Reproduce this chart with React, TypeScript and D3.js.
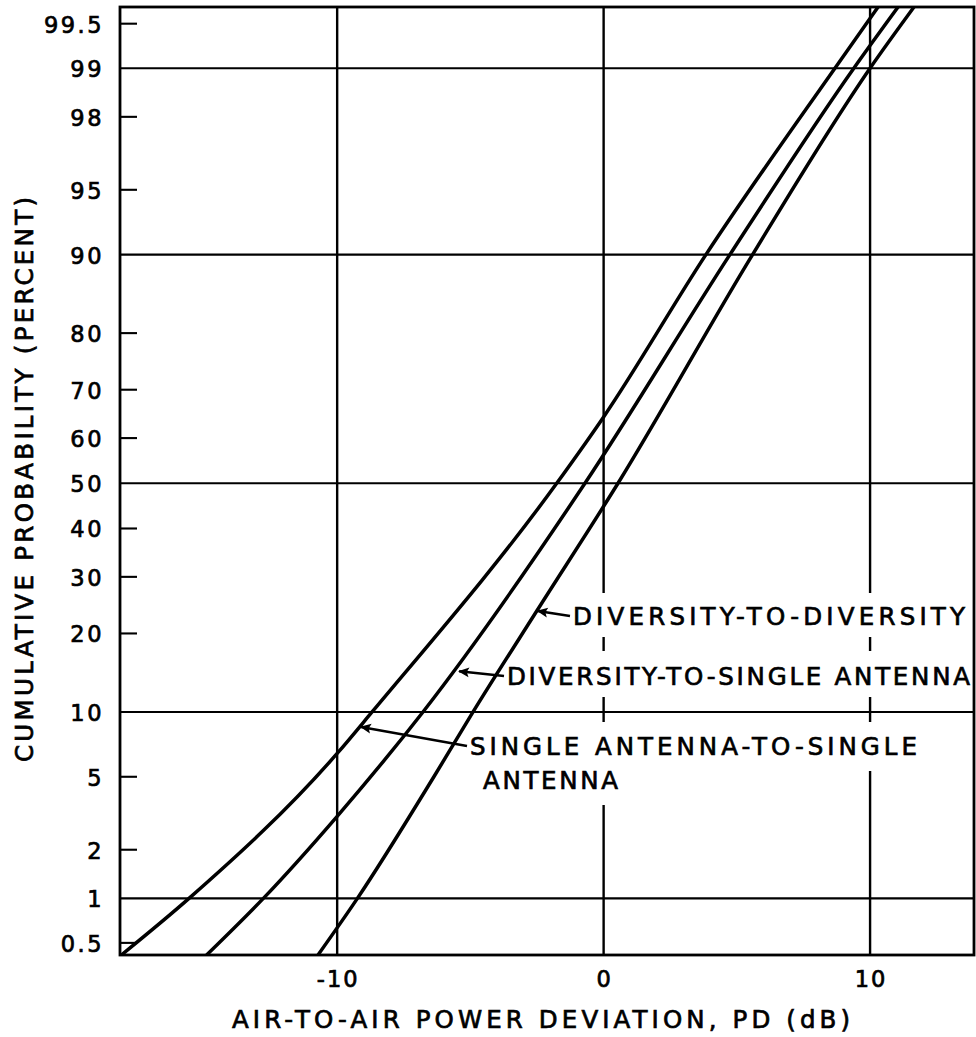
import { useEffect, useRef } from 'react';
import * as d3 from 'd3';

// cumulative probability (percent) on a normal-probability axis
const PROB_TICKS = [0.5, 1, 2, 5, 10, 20, 30, 40, 50, 60, 70, 80, 90, 95, 98, 99, 99.5];
const PROB_GRID = [1, 10, 50, 90, 99];
const PROB_DOMAIN: [number, number] = [0.41, 99.62];

// power deviation (dB)
const DB_TICKS = [-10, 0, 10];
const DB_DOMAIN: [number, number] = [-18.15, 13.9];

// [dB, percent]
const SINGLE_SINGLE: [number, number][] = [
  [-18.1, 0.41], [-15.56, 1], [-10, 6.5], [-8.69, 10],
  [-1.76, 50], [0, 64.5], [3.84, 90], [8.68, 99], [10.3, 99.62],
];
const DIVERSITY_SINGLE: [number, number][] = [
  [-14.9, 0.41], [-12.77, 1], [-10, 3.1], [-6.78, 10],
  [-0.7, 50], [4.74, 90], [9.39, 99], [11.05, 99.62],
];
const DIVERSITY_DIVERSITY: [number, number][] = [
  [-10.72, 0.41], [-9.24, 1], [-6.37, 5], [-4.9, 10], [-2.51, 23.7],
  [0.54, 50], [5.59, 90], [10, 99], [11.65, 99.62],
];

const CURVE_LABELS = ['DIVERSITY-TO-DIVERSITY', 'DIVERSITY-TO-SINGLE ANTENNA', 'SINGLE ANTENNA-TO-SINGLE', 'ANTENNA'];
// arrow tips [dB, percent] for the three labels
const ARROW_TIPS: [number, number][] = [[-2.51, 23.7], [-5.46, 14.6], [-9.14, 8.6]];

const X_TITLE = 'AIR-TO-AIR POWER DEVIATION, PD (dB)';
const Y_TITLE = 'CUMULATIVE PROBABILITY (PERCENT)';

// inverse normal CDF (Acklam)
function probit(p: number) {
  const a = [-39.69683028665376, 220.9460984245205, -275.9285104469687, 138.357751867269, -30.66479806614716, 2.506628277459239];
  const b = [-54.47609879822406, 161.5858368580409, -155.6989798598866, 66.80131188771972, -13.28068155288572];
  const c = [-0.007784894002430293, -0.3223964580411365, -2.400758277161838, -2.549732539343734, 4.374664141464968, 2.938163982698783];
  const d = [0.007784695709041462, 0.3224671290700398, 2.445134137142996, 3.754408661907416];
  const pl = 0.02425;
  if (p < pl) {
    const q = Math.sqrt(-2 * Math.log(p));
    return (((((c[0] * q + c[1]) * q + c[2]) * q + c[3]) * q + c[4]) * q + c[5]) / ((((d[0] * q + d[1]) * q + d[2]) * q + d[3]) * q + 1);
  }
  if (p <= 1 - pl) {
    const q = p - 0.5;
    const r = q * q;
    return (((((a[0] * r + a[1]) * r + a[2]) * r + a[3]) * r + a[4]) * r + a[5]) * q / (((((b[0] * r + b[1]) * r + b[2]) * r + b[3]) * r + b[4]) * r + 1);
  }
  const q = Math.sqrt(-2 * Math.log(1 - p));
  return -(((((c[0] * q + c[1]) * q + c[2]) * q + c[3]) * q + c[4]) * q + c[5]) / ((((d[0] * q + d[1]) * q + d[2]) * q + d[3]) * q + 1);
}

export default function App() {
  const svgRef = useRef<SVGSVGElement>(null);

  useEffect(() => {
    if (!svgRef.current) return;
    const W = 976;
    const H = 1037;
    const m = { left: 120, right: 974, top: 7, bottom: 955 };
    const font = '"DejaVu Sans", sans-serif';

    const svg = d3.select(svgRef.current);
    svg.selectAll('*').remove();
    svg.append('rect').attr('width', W).attr('height', H).attr('fill', '#fff');

    const x = d3.scaleLinear().domain(DB_DOMAIN).range([m.left, m.right]);
    const zScale = d3.scaleLinear()
      .domain([probit(PROB_DOMAIN[0] / 100), probit(PROB_DOMAIN[1] / 100)])
      .range([m.bottom, m.top]);
    const y = (p: number) => zScale(probit(p / 100));

    const gridG = svg.append('g');
    const maskG = svg.append('g');
    const frameG = svg.append('g');
    const curveG = svg.append('g');
    const textG = svg.append('g')
      .attr('font-family', font).attr('fill', '#000')
      .attr('stroke', '#000').attr('stroke-width', 0.7);

    // grid
    gridG.selectAll('line.v').data(DB_TICKS).join('line')
      .attr('x1', (d) => x(d)).attr('x2', (d) => x(d))
      .attr('y1', m.top).attr('y2', m.bottom)
      .attr('stroke', '#000').attr('stroke-width', 2.4);
    gridG.selectAll('line.h').data(PROB_GRID).join('line')
      .attr('x1', m.left).attr('x2', m.right)
      .attr('y1', (d) => y(d)).attr('y2', (d) => y(d))
      .attr('stroke', '#000').attr('stroke-width', 2.1);

    // short ticks on the left
    frameG.selectAll('line.t').data(PROB_TICKS.filter((p) => !PROB_GRID.includes(p))).join('line')
      .attr('x1', m.left).attr('x2', m.left + 17)
      .attr('y1', (d) => y(d)).attr('y2', (d) => y(d))
      .attr('stroke', '#000').attr('stroke-width', 2.1);

    frameG.append('rect')
      .attr('x', m.left).attr('y', m.top)
      .attr('width', m.right - m.left).attr('height', m.bottom - m.top)
      .attr('fill', 'none').attr('stroke', '#000').attr('stroke-width', 2.8);

    // tick labels
    textG.selectAll('text.yt').data(PROB_TICKS).join('text')
      .attr('x', 104).attr('y', (d) => y(d) + 9)
      .attr('text-anchor', 'end').attr('font-size', 22.5).attr('letter-spacing', 2.5)
      .text((d) => String(d));
    textG.selectAll('text.xt').data(DB_TICKS).join('text')
      .attr('x', (d) => x(d) + 1).attr('y', 987)
      .attr('text-anchor', 'middle').attr('font-size', 22.5).attr('letter-spacing', 2)
      .text((d) => String(d));

    // axis titles
    textG.append('text')
      .attr('x', 232).attr('y', 1028)
      .attr('font-size', 24.5).attr('textLength', 618).attr('lengthAdjust', 'spacing')
      .text(X_TITLE);
    textG.append('text')
      .attr('transform', 'translate(33,762) rotate(-90)')
      .attr('font-size', 24.5).attr('textLength', 565).attr('lengthAdjust', 'spacing')
      .text(Y_TITLE);

    // curves
    svg.append('defs').append('clipPath').attr('id', 'plot-clip')
      .append('rect').attr('x', m.left).attr('y', m.top)
      .attr('width', m.right - m.left).attr('height', m.bottom - m.top);
    const line = d3.line<[number, number]>()
      .x((d) => x(d[0]))
      .y((d) => y(d[1]))
      .curve(d3.curveMonotoneX);
    curveG.attr('clip-path', 'url(#plot-clip)')
      .selectAll('path').data([SINGLE_SINGLE, DIVERSITY_SINGLE, DIVERSITY_DIVERSITY]).join('path')
      .attr('d', (d) => line(d))
      .attr('fill', 'none').attr('stroke', '#000').attr('stroke-width', 3.5);

    // curve labels, with white boxes that break the grid lines
    const labels = [
      { text: CURVE_LABELS[0], x: 573, y: 625, len: 392, box: [565, 593, 970, 637] },
      { text: CURVE_LABELS[1], x: 507, y: 685, len: 463, box: [500, 651, 972, 697] },
      { text: CURVE_LABELS[2], x: 470, y: 755, len: 447, box: [463, 722, 925, 771] },
      { text: CURVE_LABELS[3], x: 483, y: 789, len: 135, box: [476, 771, 625, 805] },
    ];
    maskG.selectAll('rect').data(labels).join('rect')
      .attr('x', (d) => d.box[0]).attr('y', (d) => d.box[1])
      .attr('width', (d) => d.box[2] - d.box[0]).attr('height', (d) => d.box[3] - d.box[1])
      .attr('fill', '#fff');
    textG.selectAll('text.lab').data(labels).join('text')
      .attr('x', (d) => d.x).attr('y', (d) => d.y)
      .attr('font-size', 24.5).attr('textLength', (d) => d.len).attr('lengthAdjust', 'spacing')
      .text((d) => d.text);

    // arrows
    svg.select('defs').append('marker')
      .attr('id', 'arrow-head').attr('viewBox', '0 0 10 10')
      .attr('refX', 9).attr('refY', 5)
      .attr('markerWidth', 16).attr('markerHeight', 11)
      .attr('markerUnits', 'userSpaceOnUse').attr('orient', 'auto')
      .append('path').attr('d', 'M0,0.5 L10,5 L0,9.5 L2,5 Z').attr('fill', '#000');
    svg.append('g').selectAll('line').data(ARROW_TIPS).join('line')
      .attr('x1', (_, i) => labels[i].x - 3)
      .attr('y1', (_, i) => labels[i].y - 9)
      .attr('x2', (d) => x(d[0]) + 1)
      .attr('y2', (d) => y(d[1]))
      .attr('stroke', '#000').attr('stroke-width', 2.4)
      .attr('marker-end', 'url(#arrow-head)');
  }, []);

  return (
    <svg
      ref={svgRef}
      width={976}
      height={1037}
      style={{ position: 'absolute', left: 0, top: 0, display: 'block' }}
    />
  );
}
